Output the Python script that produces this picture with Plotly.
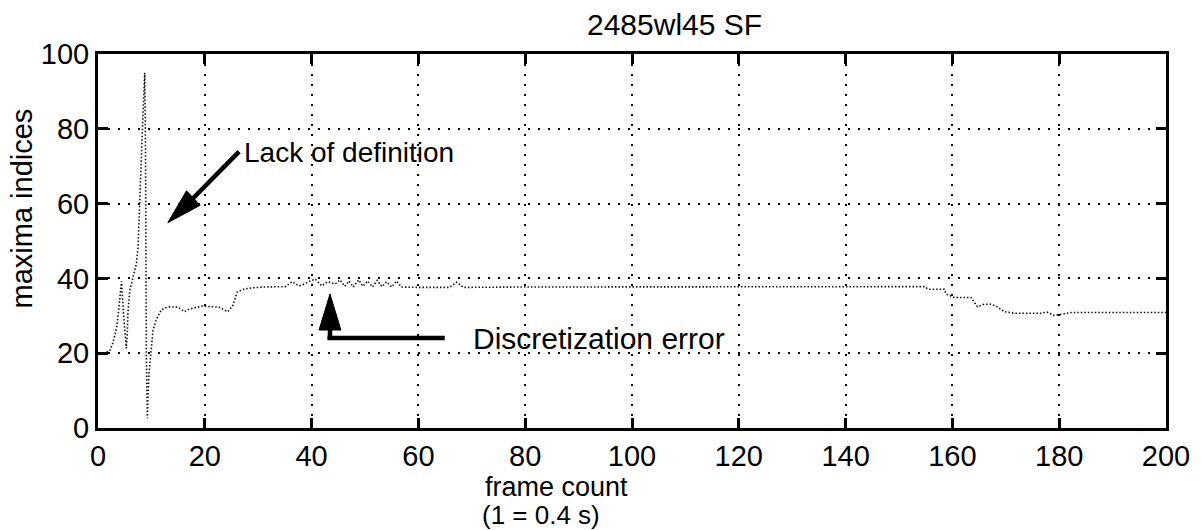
import plotly.graph_objects as go

# frame count (1 = 0.4 s) and the maxima index found in each frame
frame = [1.0, 2.2, 2.85, 3.5, 3.8, 4.1, 4.4, 4.8, 5.3, 5.5, 5.6, 5.95, 6.6, 7.2,
         7.5, 7.8, 8.1, 8.4, 8.75, 8.9, 9.05, 9.25, 9.35, 9.55, 9.85, 10.3, 10.9,
         11.85, 12.8, 13.4, 15.0, 16.2, 17.1, 19.6, 22.7, 24.3, 25.2, 26.1, 27.3,
         28.9, 31.0, 35.1, 36.3, 37.6, 38.2, 39.4, 40.7, 41.9, 43.0, 44.4, 45.3,
         46.2, 47.0, 47.8, 48.8, 49.6, 50.5, 51.4, 52.3, 53.2, 54.0, 55.0, 55.9,
         56.8, 60.0, 65.8, 67.2, 68.4, 80.0, 100.0, 120.0, 140.0, 150.0, 154.8,
         155.5, 158.5, 158.8, 160.4, 163.5, 164.7, 166.0, 167.2, 168.4, 169.7,
         171.5, 174.6, 176.5, 177.7, 179.0, 180.8, 182.4, 190.0, 200.0]
maxima = [20.0, 20.6, 23.0, 27.0, 30.6, 35.0, 39.2, 30.0, 21.3, 26.0, 30.6, 36.8,
          41.0, 44.0, 48.4, 61.0, 74.0, 83.0, 95.0, 74.0, 19.0, 2.6, 8.4, 14.6,
          19.0, 26.2, 28.9, 31.6, 32.2, 32.4, 32.3, 31.1, 31.8, 32.6, 32.3, 31.1,
          32.6, 36.4, 37.1, 37.5, 37.7, 37.8, 39.1, 38.0, 38.2, 39.1, 39.8, 38.0,
          39.1, 38.5, 39.6, 37.9, 39.3, 37.7, 39.6, 37.9, 39.3, 37.7, 39.5, 37.8,
          39.1, 37.7, 39.3, 37.7, 37.6, 37.6, 39.0, 37.6, 37.7, 37.7, 37.8, 37.8,
          37.8, 37.8, 37.1, 37.1, 35.8, 34.9, 34.9, 32.4, 33.1, 33.1, 32.4, 31.1,
          30.7, 30.6, 30.7, 31.0, 30.1, 30.5, 30.9, 30.9, 30.9]

x_ticks = list(range(0, 201, 20))
y_ticks = list(range(0, 101, 20))

FONT = "Liberation Sans, Arial, Helvetica, sans-serif"
W, H = 1202, 530
L, R, T, B = 98, 29, 54, 102
X0, X1 = 0, 200
Y0, Y1 = 0, 100
PW, PH = W - L - R, H - T - B


def px2x(px):
    return X0 + (px - L) / PW * (X1 - X0)


def px2y(py):
    return Y0 + (T + PH - py) / PH * (Y1 - Y0)


def head(tip, base, half):
    # filled triangular arrow head, given in pixel space
    tx, ty = tip
    bx, by = base
    dx, dy = tx - bx, ty - by
    n = (dx * dx + dy * dy) ** 0.5
    nx, ny = -dy / n * half, dx / n * half
    pts = [(tx, ty), (bx + nx, by + ny), (bx - nx, by - ny)]
    d = "M " + " L ".join(f"{px2x(a):.4f},{px2y(b):.4f}" for a, b in pts) + " Z"
    return dict(type="path", path=d, xref="x", yref="y",
                fillcolor="black", line=dict(color="black", width=1))


def seg(p, q, w=4):
    return dict(type="line", xref="x", yref="y",
                x0=px2x(p[0]), y0=px2y(p[1]), x1=px2x(q[0]), y1=px2y(q[1]),
                line=dict(color="black", width=w))


fig = go.Figure()
fig.add_trace(go.Scatter(
    x=frame, y=maxima, mode="lines",
    line=dict(color="#111111", width=1.6, dash="1.5px,2px"),
    showlegend=False, hoverinfo="skip",
))

axis_common = dict(
    showgrid=True, gridcolor="black", gridwidth=1.6, griddash="2px,8px",
    showline=True, linecolor="black", linewidth=3, mirror="allticks",
    ticks="inside", ticklen=10, tickwidth=2.5, tickcolor="black",
    tickfont=dict(family=FONT, size=29, color="black"),
    zeroline=False,
)

fig.update_layout(
    width=W, height=H, autosize=False,
    margin=dict(l=L, r=R, t=T, b=B),
    paper_bgcolor="white", plot_bgcolor="white",
    xaxis=dict(range=[X0, X1], tickvals=x_ticks, **axis_common),
    yaxis=dict(range=[Y0, Y1], tickvals=y_ticks, **axis_common),
    font=dict(family=FONT, color="black"),
    shapes=[
        # "Lack of definition" pointer
        seg((240, 151.7), (190, 202), 4.5),
        head((168.3, 222.7), (194, 198), 10),
        # "Discretization error" elbow pointer
        seg((447, 338), (329, 338), 4.5),
        seg((331.5, 340), (331.5, 326), 4.5),
        head((331.5, 294), (331.5, 330), 11),
    ],
    annotations=[
        dict(text="2485wl45 SF", xref="paper", yref="paper",
             x=(678 - L) / PW, y=(T + PH - 25) / PH,
             xanchor="center", yanchor="middle", showarrow=False,
             font=dict(size=30)),
        dict(text="maxima indices", xref="paper", yref="paper",
             x=(22 - L) / PW, y=(T + PH - 208) / PH, textangle=-90,
             xanchor="center", yanchor="middle", showarrow=False,
             font=dict(size=29)),
        dict(text="frame count", xref="paper", yref="paper",
             x=(486 - L) / PW, y=(T + PH - 487) / PH,
             xanchor="left", yanchor="middle", showarrow=False,
             font=dict(size=27)),
        dict(text="(1 = 0.4 s)", xref="paper", yref="paper",
             x=(483 - L) / PW, y=(T + PH - 515) / PH,
             xanchor="left", yanchor="middle", showarrow=False,
             font=dict(size=26)),
        dict(text="Lack of definition", xref="x", yref="y",
             x=px2x(243), y=px2y(152), xanchor="left", yanchor="middle",
             showarrow=False, font=dict(size=28)),
        dict(text="Discretization error", xref="x", yref="y",
             x=px2x(473), y=px2y(338), xanchor="left", yanchor="middle",
             showarrow=False, font=dict(size=30)),
    ],
)

fig.write_html("out.html")
